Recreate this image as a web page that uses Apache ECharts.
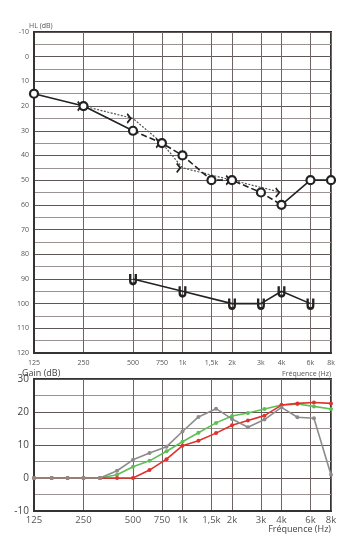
<!DOCTYPE html>
<html>
<head>
<meta charset="utf-8">
<script src="https://cdn.jsdelivr.net/npm/echarts@6/dist/echarts.min.js"></script>
<style>html,body{margin:0;padding:0;background:#fff;}#c{width:358px;height:553px;}</style>
</head>
<body>
<div id="c"></div>
<script>
// ---- data ----
const freqTicks = [125, 250, 500, 750, 1000, 1500, 2000, 3000, 4000, 6000, 8000];
const tickLabels = ['125', '250', '500', '750', '1k', '1,5k', '2k', '3k', '4k', '6k', '8k'];
const acFreq = [125, 250, 500, 750, 1000, 1500, 2000, 3000, 4000, 6000, 8000];
const acHL = [15, 20, 30, 35, 40, 50, 50, 55, 60, 50, 50];
const bcFreq = [250, 500, 750, 1000, 2000, 4000];
const bcHL = [20, 25, 35, 45, 50, 55];
const uclFreq = [500, 1000, 2000, 3000, 4000, 6000];
const uclHL = [90, 95, 100, 100, 95, 100];
const gainFreq = [125, 160, 200, 250, 315, 400, 500, 630, 800, 1000, 1250, 1600, 2000, 2500, 3150, 4000, 5000, 6300, 8000];
const gainGray = [0, 0, 0, 0, 0, 2.2, 5.5, 7.6, 9.5, 14.1, 18.5, 21, 17.9, 15.4, 17.7, 21.4, 18.4, 18.1, 1];
const gainGreen = [0, 0, 0, 0, 0, 1, 3.4, 5.2, 8.1, 11, 13.7, 16.7, 18.8, 19.7, 20.9, 22.1, 22.4, 21.7, 20.9];
const gainRed = [0, 0, 0, 0, 0, 0, 0, 2.4, 5.7, 9.8, 11.3, 13.6, 16, 17.4, 18.9, 22.1, 22.6, 22.9, 22.6];

const pairs = (xs, ys) => xs.map((x, i) => [x, ys[i]]);
const labelFor = v => {
  let best = 0;
  freqTicks.forEach((f, i) => { if (Math.abs(f - v) < Math.abs(freqTicks[best] - v)) best = i; });
  return tickLabels[best];
};

const FONT = 'Open Sans';
const gridCol = '#5f5656';
const minorCol = '#9b9292';

function xAxisDef(gridIndex, fs, margin) {
  return {
    type: 'log', logBase: 2, min: 125, max: 8000, gridIndex,
    axisLine: { show: true, onZero: false, lineStyle: { color: '#333', width: 2 } },
    axisTick: { show: false, customValues: freqTicks },
    axisLabel: { customValues: freqTicks, formatter: v => labelFor(v), fontSize: fs, color: '#555', fontFamily: FONT, margin: margin },
    splitLine: { show: true, lineStyle: { color: '#6e6464', width: 1 } },
    minorSplitLine: { show: false }
  };
}

const ACsolid = acFreq.map((f, i) => (i <= 2 || i >= 8) ? [f, acHL[i]] : [f, '-']);
const ACdash = acFreq.map((f, i) => (i >= 2 && i <= 8) ? [f, acHL[i]] : [f, '-']);

const option = {
  animation: false,
  backgroundColor: '#fff',
  title: [
    { text: 'HL (dB)', left: 24, top: 17, textStyle: { fontSize: 7, color: '#555', fontWeight: 'normal', fontFamily: FONT } },
    { text: 'Fréquence (Hz)', right: 22, top: 365, textStyle: { fontSize: 7, color: '#555', fontWeight: 'normal', fontFamily: FONT } },
    { text: 'Gain (dB)', left: 17, top: 364, textStyle: { fontSize: 9, color: '#444', fontWeight: 'normal', fontFamily: FONT } },
    { text: 'Fréquence (Hz)', right: 22, top: 520, textStyle: { fontSize: 9, color: '#444', fontWeight: 'normal', fontFamily: FONT } }
  ],
  grid: [
    { left: 34, right: 27, top: 32, height: 321, show: true, borderColor: '#333', borderWidth: 2, backgroundColor: 'transparent' },
    { left: 34, right: 27, top: 379, height: 132, show: true, borderColor: '#333', borderWidth: 2, backgroundColor: 'transparent' }
  ],
  xAxis: [xAxisDef(0, 7, 6), xAxisDef(1, 9.5, 4)],
  yAxis: [
    {
      type: 'value', gridIndex: 0, inverse: true, min: -10, max: 120, interval: 5,
      axisLine: { show: true, onZero: false, lineStyle: { color: '#333', width: 2 } },
      axisTick: { show: false },
      axisLabel: { fontSize: 7, color: '#555', fontFamily: FONT, margin: 5, formatter: v => (v % 10 === 0 ? String(v) : '') },
      splitLine: { show: true, lineStyle: { color: [gridCol, minorCol], width: 1 } }
    },
    {
      type: 'value', gridIndex: 1, min: -10, max: 30, interval: 5,
      axisLine: { show: true, onZero: false, lineStyle: { color: '#333', width: 2 } },
      axisTick: { show: false },
      axisLabel: { fontSize: 10, color: '#444', fontFamily: FONT, margin: 5, formatter: v => (v % 10 === 0 ? String(v) : '') },
      splitLine: { show: true, lineStyle: { color: [gridCol, minorCol], width: 1 } }
    }
  ],
  series: [
    {
      name: 'BC', type: 'line', xAxisIndex: 0, yAxisIndex: 0, data: pairs(bcFreq, bcHL),
      lineStyle: { color: '#555', width: 1.2, type: [2, 1.5] },
      symbol: 'path://M0,0 L6,5 L0,10', symbolSize: [6, 9], symbolOffset: [-4, 0], symbolKeepAspect: true,
      itemStyle: { color: 'transparent', borderColor: '#222', borderWidth: 1.8 }, z: 3
    },
    {
      name: 'AC solid', type: 'line', xAxisIndex: 0, yAxisIndex: 0, data: ACsolid,
      lineStyle: { color: '#222', width: 1.6 }, showSymbol: false, symbol: 'none', connectNulls: false, z: 4
    },
    {
      name: 'AC dash', type: 'line', xAxisIndex: 0, yAxisIndex: 0, data: ACdash,
      lineStyle: { color: '#222', width: 1.6, type: [6, 3] },
      symbol: 'none', connectNulls: false, z: 5
    },
    {
      name: 'AC pts', type: 'line', xAxisIndex: 0, yAxisIndex: 0, data: pairs(acFreq, acHL),
      lineStyle: { width: 0, opacity: 0 },
      symbol: 'circle', symbolSize: 8,
      itemStyle: { color: '#fff', borderColor: '#222', borderWidth: 2.2 }, z: 6
    },
    {
      name: 'UCL', type: 'line', xAxisIndex: 0, yAxisIndex: 0, data: pairs(uclFreq, uclHL),
      lineStyle: { color: '#222', width: 1.6 },
      symbol: 'path://M0,0 L0,7 Q0,10 3.5,10 Q7,10 7,7 L7,0', symbolSize: [8, 10], symbolKeepAspect: true,
      itemStyle: { color: 'transparent', borderColor: '#222', borderWidth: 2.6 }, z: 5
    },
    {
      name: 'Green', type: 'line', xAxisIndex: 1, yAxisIndex: 1, data: pairs(gainFreq, gainGreen),
      lineStyle: { color: '#5cc054', width: 1.6 }, symbol: 'circle', symbolSize: 4,
      itemStyle: { color: '#5cc054' }, z: 3
    },
    {
      name: 'Red', type: 'line', xAxisIndex: 1, yAxisIndex: 1, data: pairs(gainFreq, gainRed),
      lineStyle: { color: '#e0312b', width: 1.6 }, symbol: 'circle', symbolSize: 4,
      itemStyle: { color: '#e0312b' }, z: 4
    },
    {
      name: 'Gray', type: 'line', xAxisIndex: 1, yAxisIndex: 1, data: pairs(gainFreq, gainGray),
      lineStyle: { color: '#8c8c8c', width: 1.6 }, symbol: 'circle', symbolSize: 4,
      itemStyle: { color: '#8c8c8c' }, z: 5
    }
  ]
};

const chart = echarts.init(document.getElementById('c'), null, { renderer: 'canvas' });
chart.setOption(option);
</script>
</body>
</html>
